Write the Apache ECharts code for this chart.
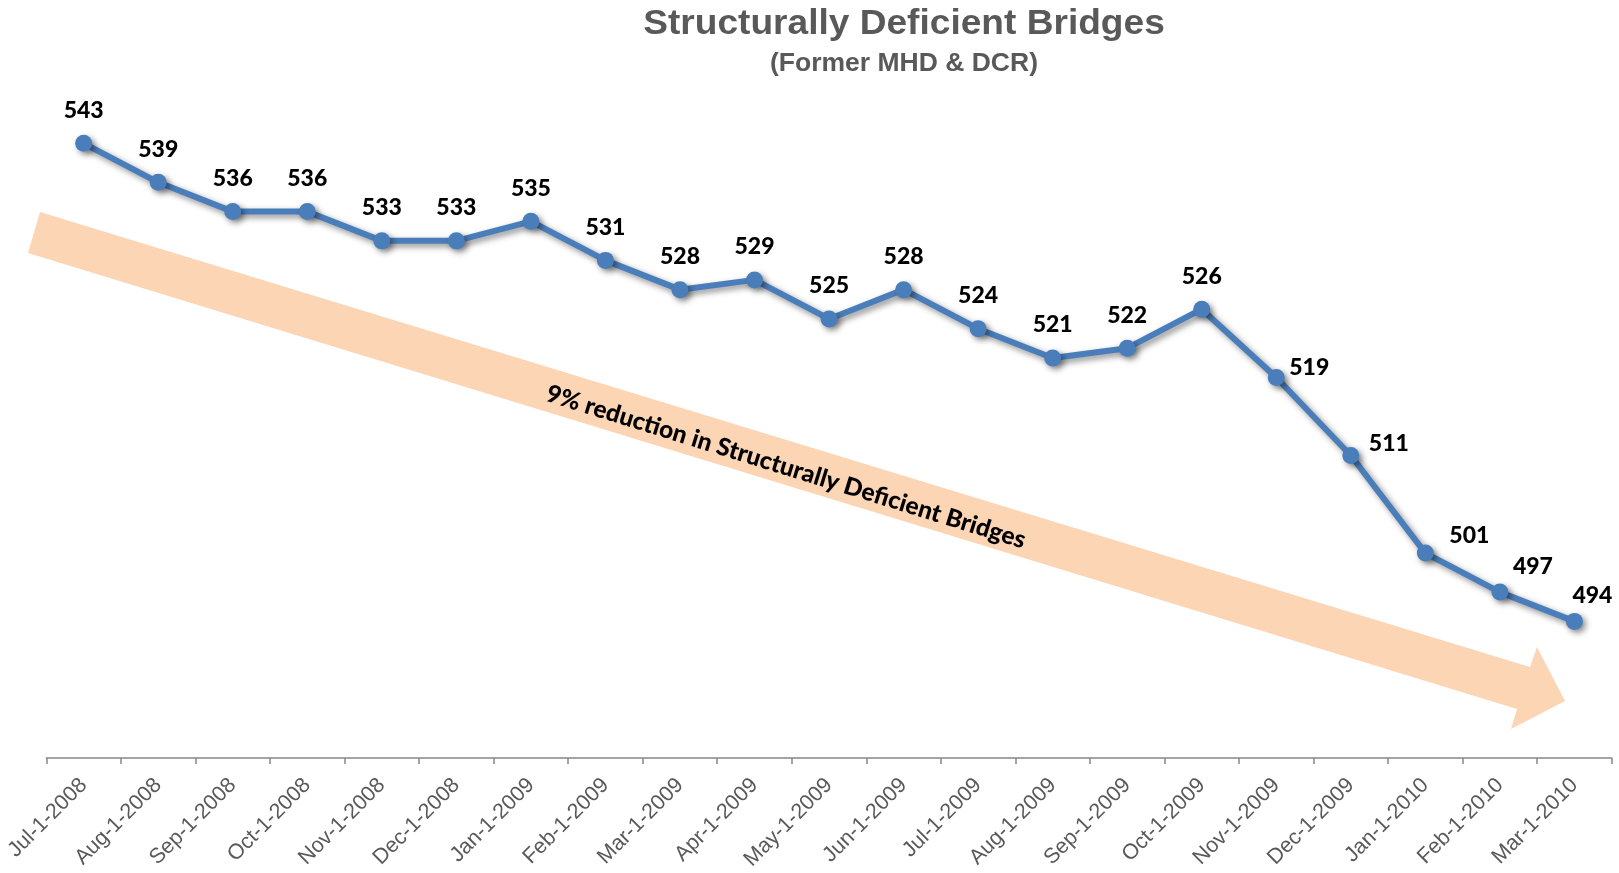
<!DOCTYPE html>
<html>
<head>
<meta charset="utf-8">
<script src="https://cdn.jsdelivr.net/npm/echarts@6/dist/echarts.min.js"></script>
<style>
  html, body { margin: 0; padding: 0; background: #fff; }
  #chart { width: 1619px; height: 873px; }
</style>
</head>
<body>
<div id="chart"></div>
<script>
// ---- data ----
const categories = [
  'Jul-1-2008', 'Aug-1-2008', 'Sep-1-2008', 'Oct-1-2008', 'Nov-1-2008', 'Dec-1-2008',
  'Jan-1-2009', 'Feb-1-2009', 'Mar-1-2009', 'Apr-1-2009', 'May-1-2009', 'Jun-1-2009',
  'Jul-1-2009', 'Aug-1-2009', 'Sep-1-2009', 'Oct-1-2009', 'Nov-1-2009', 'Dec-1-2009',
  'Jan-1-2010', 'Feb-1-2010', 'Mar-1-2010'
];
const bridgeCounts = [543, 539, 536, 536, 533, 533, 535, 531, 528, 529, 525, 528, 524, 521, 522, 526, 519, 511, 501, 497, 494];
const titleText = 'Structurally Deficient Bridges';
const subtitleText = '(Former MHD & DCR)';
const arrowText = '9% reduction in Structurally Deficient Bridges';

// ---- styling ----
const lineColor = '#4a7ebb';
const arrowColor = '#fcd5b5';

function labelOffset(i) {
  const special = {16: [33, -10], 17: [38, -12], 18: [44, -18], 19: [33, -26], 20: [18, -26]};
  return special[i] || [0, -33];
}

const seriesData = bridgeCounts.map((v, i) => ({
  value: v,
  label: { offset: labelOffset(i) }
}));

const chart = echarts.init(document.getElementById('chart'));
const deg = Math.PI / 180;

chart.setOption({
  animation: false,
  backgroundColor: '#ffffff',
  grid: { left: 46.4, right: 7.3, top: 75, bottom: 115, containLabel: false },
  xAxis: {
    type: 'category',
    data: categories,
    boundaryGap: true,
    axisLine: { lineStyle: { color: '#878787', width: 1.5 } },
    axisTick: { show: true, length: 6, lineStyle: { color: '#878787', width: 1.5 } },
    axisLabel: {
      interval: 0, rotate: 45, margin: 24,
      fontFamily: 'Liberation Sans, Arial, sans-serif', fontSize: 21.5, color: '#595959'
    },
    splitLine: { show: false }
  },
  yAxis: {
    type: 'value', min: 480, max: 550, show: false,
    splitLine: { show: false }
  },
  graphic: [
    {
      type: 'polygon', z: 0,
      shape: { points: [[40, 212], [1530, 667], [1537, 647], [1565, 701], [1511, 729], [1517, 709], [28, 253]] },
      style: { fill: arrowColor }
    },
    {
      type: 'text', z: 1, x: 786, y: 467, rotation: -17.2 * deg,
      style: {
        text: arrowText, fill: '#000', fontFamily: 'Lato, sans-serif', fontWeight: 900,
        fontSize: 24.5, align: 'center', verticalAlign: 'middle'
      }
    },
    {
      type: 'text', z: 1, x: 904, y: 24, scaleX: 1.06,
      style: {
        text: titleText, fill: '#595959', fontFamily: 'Liberation Sans, Arial, sans-serif', fontWeight: 'bold',
        fontSize: 35, align: 'center', verticalAlign: 'middle'
      }
    },
    {
      type: 'text', z: 1, x: 904, y: 64,
      style: {
        text: subtitleText, fill: '#595959', fontFamily: 'Liberation Sans, Arial, sans-serif', fontWeight: 'bold',
        fontSize: 26.5, align: 'center', verticalAlign: 'middle'
      }
    }
  ],
  series: [{
    type: 'line',
    data: seriesData,
    z: 3,
    symbol: 'circle',
    symbolSize: 17,
    lineStyle: {
      color: lineColor, width: 6,
      shadowColor: 'rgba(0,0,0,0.45)', shadowBlur: 6, shadowOffsetX: 3, shadowOffsetY: 3
    },
    itemStyle: {
      color: lineColor, borderWidth: 0,
      shadowColor: 'rgba(0,0,0,0.45)', shadowBlur: 6, shadowOffsetX: 3, shadowOffsetY: 3
    },
    label: {
      show: true, position: 'inside',
      fontFamily: 'Lato, sans-serif', fontWeight: 900, fontSize: 23, color: '#000'
    },
    emphasis: { disabled: true }
  }]
});
</script>
</body>
</html>
